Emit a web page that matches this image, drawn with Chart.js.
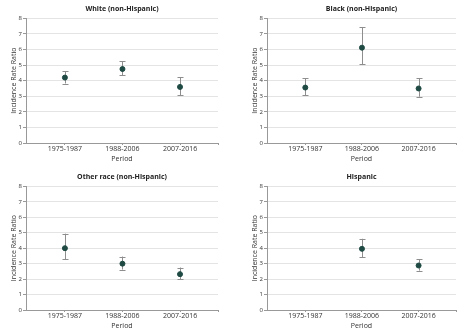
<!DOCTYPE html>
<html>
<head>
<meta charset="utf-8">
<script src="https://cdn.jsdelivr.net/npm/chart.js@4"></script>
<style>
  body { margin: 0; background: #fff; }
  .panel { position: absolute; }
</style>
</head>
<body>
<div class="panel" style="left:0;top:0;width:234px;height:168px"><canvas id="c1"></canvas></div>
<div class="panel" style="left:234px;top:0;width:233px;height:168px"><canvas id="c2"></canvas></div>
<div class="panel" style="left:0;top:168px;width:234px;height:167px"><canvas id="c3"></canvas></div>
<div class="panel" style="left:234px;top:168px;width:233px;height:167px"><canvas id="c4"></canvas></div>
<script>
// Data
const periods = ['1975-1987', '1988-2006', '2007-2016'];
const yTicks = [0, 1, 2, 3, 4, 5, 6, 7, 8];

const whiteIRR = [4.2, 4.75, 3.6];
const whiteLow = [3.82, 4.36, 3.07];
const whiteHigh = [4.6, 5.25, 4.21];

const blackIRR = [3.56, 6.12, 3.5];
const blackLow = [3.05, 5.05, 2.97];
const blackHigh = [4.15, 7.44, 4.17];

const otherIRR = [4.0, 3.0, 2.32];
const otherLow = [3.27, 2.62, 1.98];
const otherHigh = [4.94, 3.46, 2.75];

const hispIRR = [null, 3.96, 2.88];
const hispLow = [null, 3.42, 2.55];
const hispHigh = [null, 4.61, 3.27];

const FONT = "'Open Sans', sans-serif";
const DOT = '#1f4a44';
const BAR = '#8e8e8e';

// Error bar plugin - draws CI whiskers behind the points
const errorBars = {
  id: 'errorBars',
  beforeDatasetsDraw(chart, args, opts) {
    const ctx = chart.ctx;
    const x = chart.scales.x, y = chart.scales.y;
    ctx.save();
    ctx.strokeStyle = BAR;
    ctx.lineWidth = 1;
    opts.low.forEach((lo, i) => {
      const hi = opts.high[i];
      if (lo == null || hi == null) return;
      const px = Math.round(x.getPixelForValue(i)) + 0.5;
      const y1 = y.getPixelForValue(lo), y2 = y.getPixelForValue(hi);
      ctx.beginPath();
      ctx.moveTo(px, y1); ctx.lineTo(px, y2);
      ctx.moveTo(px - 3, Math.round(y1) + 0.5); ctx.lineTo(px + 3, Math.round(y1) + 0.5);
      ctx.moveTo(px - 3, Math.round(y2) + 0.5); ctx.lineTo(px + 3, Math.round(y2) + 0.5);
      ctx.stroke();
    });
    ctx.restore();
  }
};

function makePanel(id, title, vals, low, high, yWidth, padRight, yTitlePad) {
  const ctx = document.getElementById(id).getContext('2d');
  const xMax = 2.66;
  return new Chart(ctx, {
    type: 'scatter',
    data: {
      datasets: [{
        data: vals.map((v, i) => ({ x: i, y: v })),
        backgroundColor: DOT,
        borderColor: DOT,
        pointRadius: 2.5,
        pointHoverRadius: 2.5
      }]
    },
    options: {
      responsive: true,
      maintainAspectRatio: false,
      animation: false,
      layout: { padding: { left: 0, right: padRight, top: 0, bottom: 0 } },
      plugins: {
        legend: { display: false },
        tooltip: { enabled: false },
        title: {
          display: true,
          fullSize: false,
          text: title,
          color: '#222',
          font: { family: FONT, size: 7, weight: 'bold' },
          padding: { top: 5, bottom: 5 }
        },
        errorBars: { low: low, high: high }
      },
      scales: {
        x: {
          type: 'linear',
          min: -0.676,
          max: xMax,
          afterBuildTicks: (s) => { s.ticks = [0, 1, 2, xMax].map(v => ({ value: v })); },
          afterFit: (s) => { s.height = 25; },
          ticks: {
            color: '#333',
            font: { family: FONT, size: 7 },
            padding: 0,
            maxRotation: 0,
            callback: (v) => periods[v] || ''
          },
          grid: { drawOnChartArea: false, drawTicks: true, tickLength: 2, color: '#999' },
          border: { color: '#999' },
          title: {
            display: true,
            text: 'Period',
            color: '#333',
            font: { family: FONT, size: 7 },
            padding: { top: 0, bottom: 5 }
          }
        },
        y: {
          min: 0,
          max: 8,
          afterBuildTicks: (s) => { s.ticks = yTicks.map(v => ({ value: v })); },
          afterFit: (s) => { s.width = yWidth; },
          ticks: {
            color: '#333',
            font: { family: FONT, size: 6 },
            padding: 1
          },
          grid: { color: '#e4e4e4', tickColor: '#999', tickLength: 3 },
          border: { color: '#999' },
          title: {
            display: true,
            text: 'Incidence Rate Ratio',
            color: '#333',
            font: { family: FONT, size: 7 },
            padding: { top: yTitlePad, bottom: 0 }
          }
        }
      }
    },
    plugins: [errorBars]
  });
}

makePanel('c1', 'White (non-Hispanic)', whiteIRR, whiteLow, whiteHigh, 26, 16, 10);
makePanel('c2', 'Black (non-Hispanic)', blackIRR, blackLow, blackHigh, 33, 11, 17);
makePanel('c3', 'Other race (non-Hispanic)', otherIRR, otherLow, otherHigh, 26, 16, 10);
makePanel('c4', 'Hispanic', hispIRR, hispLow, hispHigh, 33, 11, 17);
</script>
</body>
</html>
